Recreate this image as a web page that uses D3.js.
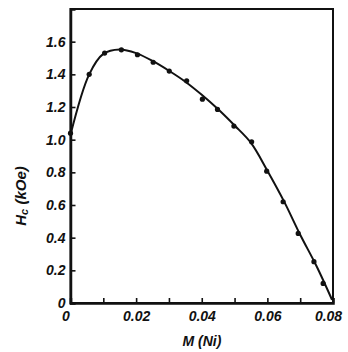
<!DOCTYPE html>
<html><head><meta charset="utf-8">
<script src="https://cdn.jsdelivr.net/npm/d3@7"></script>
<style>body{margin:0;background:#fff}svg{display:block}text{font-family:"Liberation Sans",Arial,sans-serif;font-style:italic;font-weight:bold;fill:#111}</style>
</head><body>
<script>
// measured points
const mValues  = [0, 0.0057, 0.0104, 0.0155, 0.0204, 0.0252, 0.0301, 0.0354, 0.0402, 0.0448, 0.0498, 0.0552, 0.0598, 0.0648, 0.0694, 0.0742, 0.0770];
const hcValues = [1.04, 1.40, 1.53, 1.55, 1.52, 1.474, 1.42, 1.36, 1.248, 1.185, 1.083, 0.987, 0.807, 0.62, 0.426, 0.253, 0.12];
// drawn smooth curve
const curveM  = [0, 0.0057, 0.010, 0.015, 0.020, 0.025, 0.030, 0.035, 0.040, 0.045, 0.050, 0.055, 0.060, 0.065, 0.070, 0.075, 0.0797];
const curveHc = [1.03, 1.40, 1.525, 1.552, 1.53, 1.482, 1.422, 1.355, 1.275, 1.186, 1.087, 0.98, 0.81, 0.625, 0.418, 0.225, 0.02];
const xTicks = [0, 0.01, 0.02, 0.03, 0.04, 0.05, 0.06, 0.07, 0.08];
const xTickLabels = ["0", "", "0.02", "", "0.04", "", "0.06", "", "0.08"];
const yTicks = [0, 0.2, 0.4, 0.6, 0.8, 1.0, 1.2, 1.4, 1.6];
const yTickLabels = ["0", "0.2", "0.4", "0.6", "0.8", "1.0", "1.2", "1.4", "1.6"];

const W = 348, H = 352;
const svg = d3.select("body").append("svg").attr("width", W).attr("height", H);
const x = d3.scaleLinear().domain([0, 0.08]).range([70.5, 333]);
const y = d3.scaleLinear().domain([0, 1.8]).range([303, 9]);

// frame
svg.append("rect").attr("x", x(0)).attr("y", y(1.8)).attr("width", x(0.08) - x(0)).attr("height", y(0) - y(1.8))
  .attr("fill", "none").attr("stroke", "#111").attr("stroke-width", 2);

const gx = svg.append("g").attr("transform", `translate(0,${y(0)})`)
  .call(d3.axisBottom(x).tickValues(xTicks).tickSize(-5).tickPadding(8).tickFormat((d, i) => xTickLabels[i]));
const gy = svg.append("g").attr("transform", `translate(${x(0)},0)`)
  .call(d3.axisLeft(y).tickValues(yTicks).tickSize(-5).tickPadding(5).tickFormat((d, i) => yTickLabels[i]));
[gx, gy].forEach(g => {
  g.select(".domain").attr("stroke", "#111").attr("stroke-width", 2.5);
  g.selectAll(".tick line").attr("stroke", "#111").attr("stroke-width", 1.6);
  g.selectAll("text").attr("font-size", 14).style("font-family", '"Liberation Sans",Arial,sans-serif').style("font-style", "italic").style("font-weight", "bold").attr("fill", "#111");
});
gx.selectAll(".tick").filter(d => d === 0).select("text").attr("dx", -5);
gx.selectAll(".tick").filter(d => d === 0.08).select("text").attr("dx", -5);

// curve
const pts = curveM.map((m, i) => [m, curveHc[i]]);
const line = d3.line().x(d => x(d[0])).y(d => y(d[1])).curve(d3.curveCatmullRom.alpha(0.5));
svg.append("path").attr("d", line(pts)).attr("fill", "none").attr("stroke", "#111").attr("stroke-width", 2);
svg.append("g").selectAll("circle").data(mValues).join("circle")
  .attr("cx", d => x(d)).attr("cy", (d, i) => y(hcValues[i])).attr("r", 2.6).attr("fill", "#111");

// titles
svg.append("text").attr("x", 202).attr("y", 346).attr("text-anchor", "middle").attr("font-size", 14).text("M (Ni)");
const yt = svg.append("text").attr("transform", "translate(26,196) rotate(-90)").attr("text-anchor", "middle").attr("font-size", 15);
yt.append("tspan").text("H");
yt.append("tspan").attr("font-size", 11).attr("dy", 2).text("c");
yt.append("tspan").attr("dy", -2).text(" (kOe)");
</script>
</body></html>
